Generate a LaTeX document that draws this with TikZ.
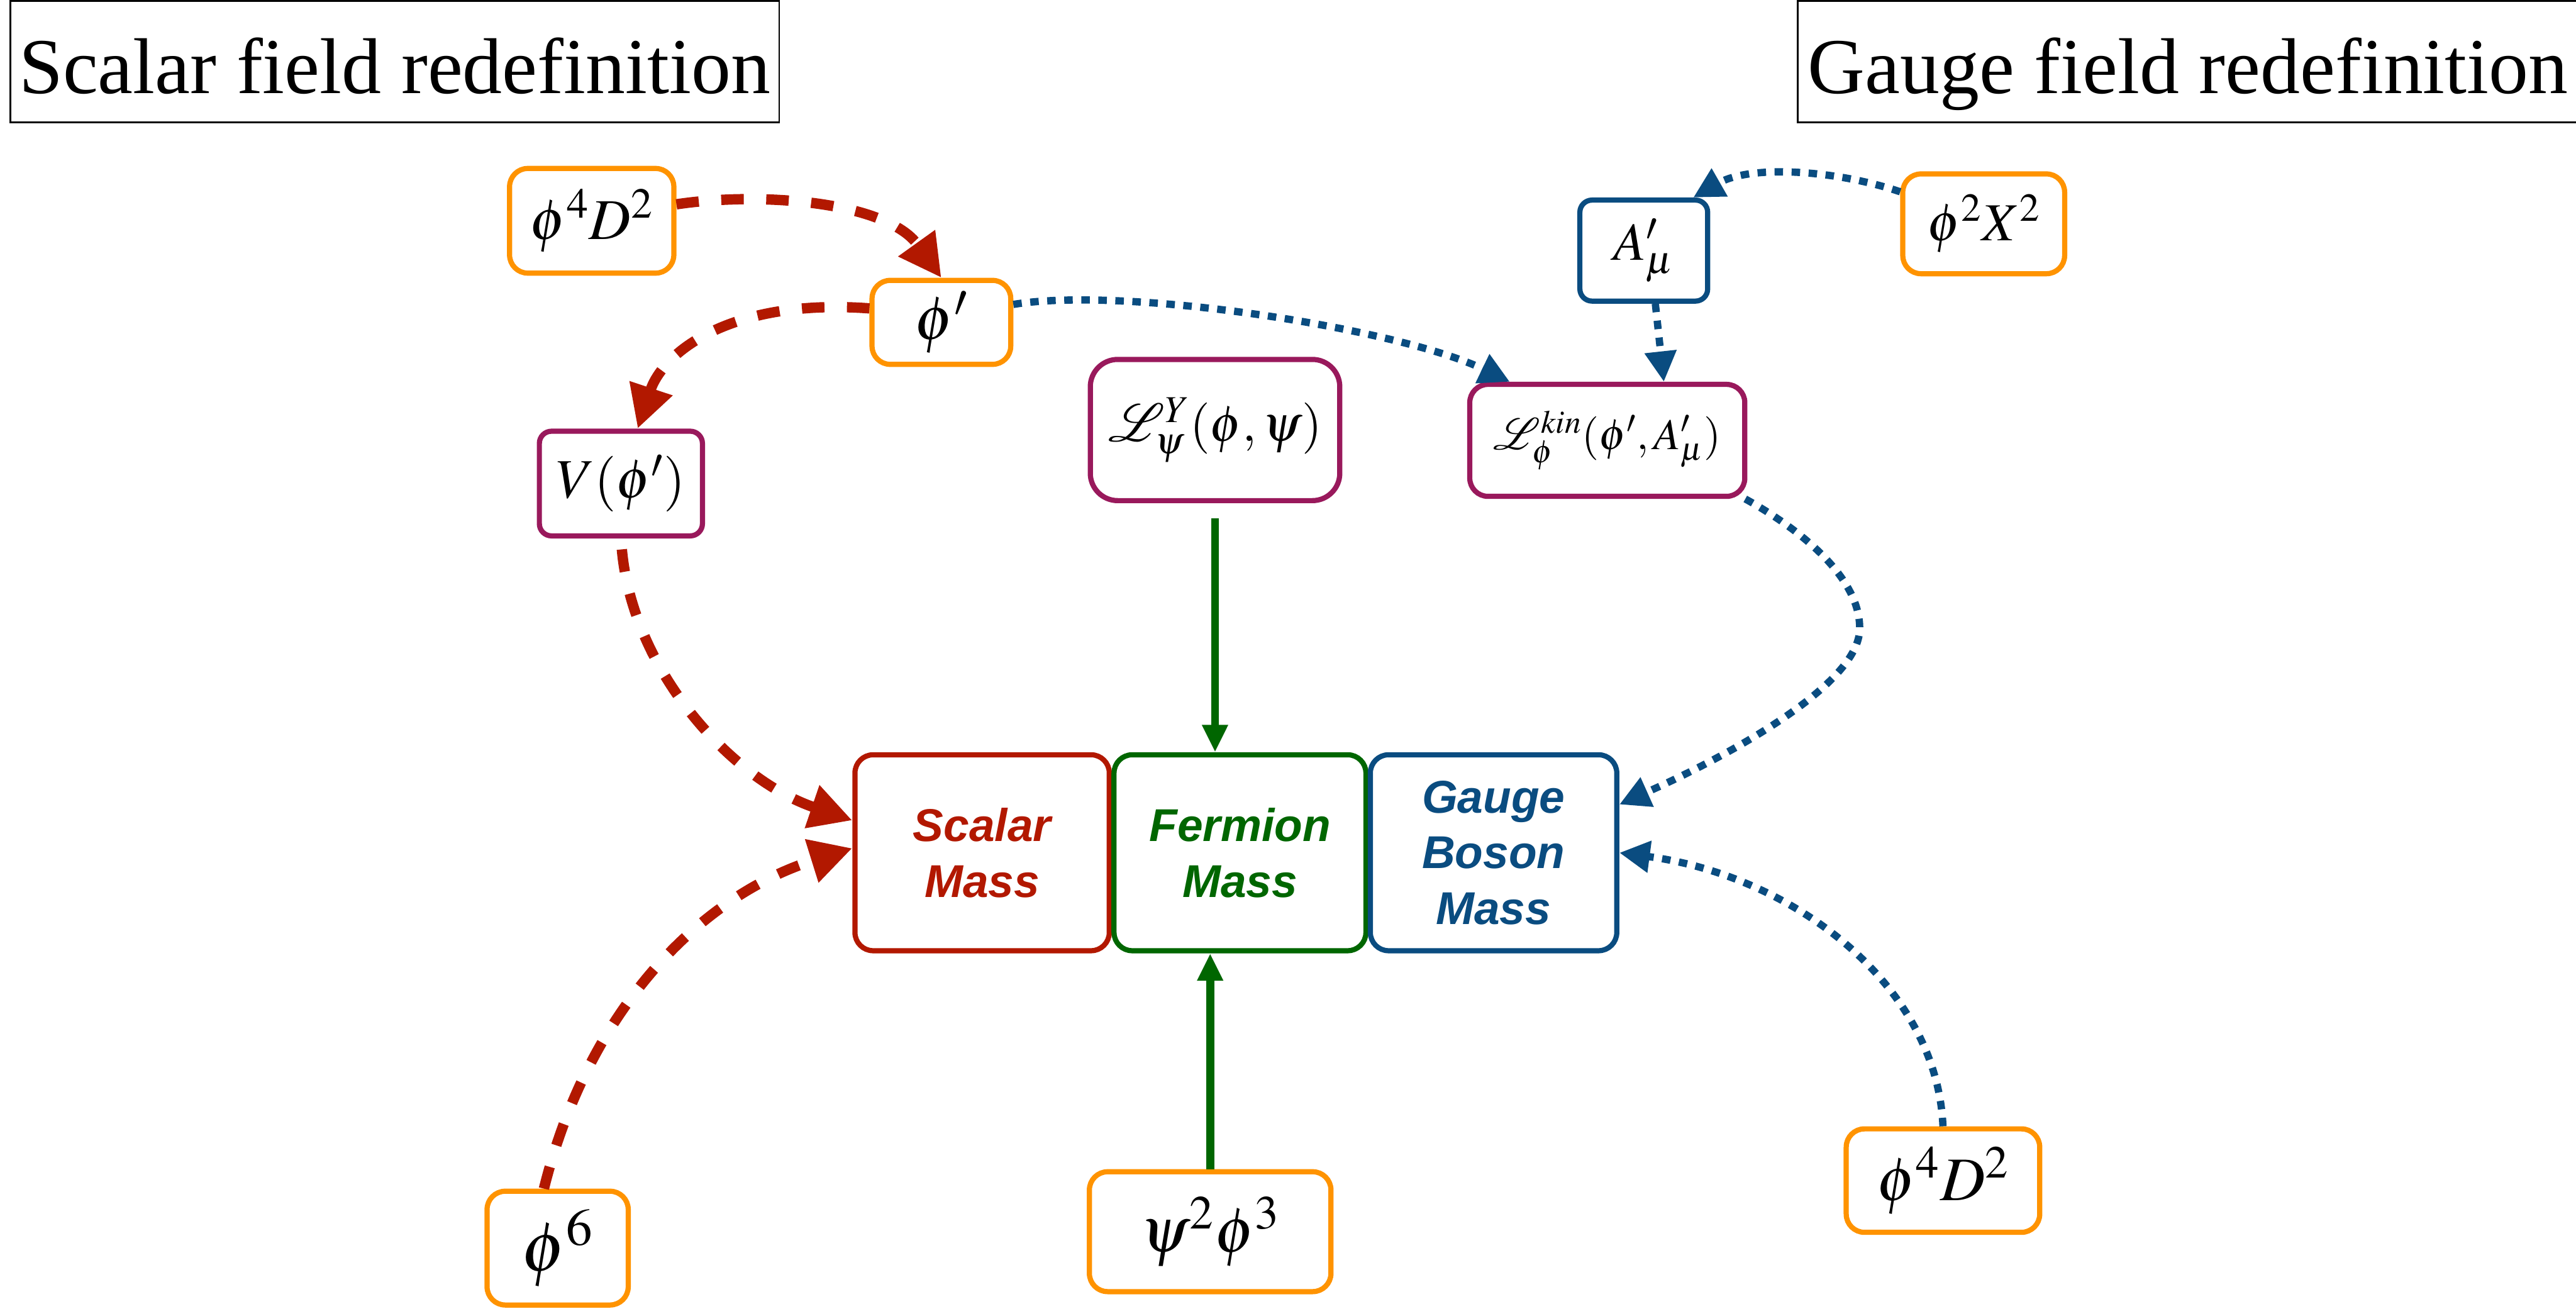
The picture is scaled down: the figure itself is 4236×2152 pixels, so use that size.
\documentclass[tikz,border=0pt]{standalone}
\usepackage{mathptmx}
\usepackage{mathrsfs}
\usepackage[no-math]{fontspec}
\setmainfont{Liberation Serif}
\newfontfamily\massfont{Liberation Sans}
\usetikzlibrary{arrows.meta,calc}

\definecolor{cRed}{RGB}{178,24,0}
\definecolor{cGreen}{RGB}{0,102,0}
\definecolor{cBlue}{RGB}{10,76,128}
\definecolor{cPurple}{RGB}{153,25,92}
\definecolor{cOrange}{RGB}{255,147,0}

\tikzset{
  basebox/.style={line width=0.085cm, rounded corners=0.3cm, fill=white,
    inner sep=0pt, align=center},
  obox/.style={basebox, draw=cOrange},
  pbox/.style={basebox, draw=cPurple},
  bbox/.style={basebox, draw=cBlue},
  massbox/.style={basebox, minimum width=4.2cm, minimum height=3.22cm,
    font=\massfont\bfseries\itshape\fontsize{21.5}{26}\selectfont},
  titlebox/.style={draw=black, line width=0.03cm, inner sep=0pt,
    minimum height=1.99cm, text height=1.4cm, text depth=0.35cm,
    font=\fontsize{37}{44}\selectfont},
  mfont/.style={font=\fontsize{#1}{#1}\selectfont},
  redarrow/.style={draw=cRed, line width=0.17cm,
    dash pattern=on 0.37cm off 0.37cm,
    -{Triangle[length=0.7cm,width=0.7cm]}},
  bluearrow/.style={draw=cBlue, line width=0.12cm,
    dash pattern=on 0.14cm off 0.14cm,
    -{Triangle[length=0.5cm,width=0.5cm]}},
  greenarrow/.style={draw=cGreen, line width=0.13cm,
    -{Triangle[length=0.45cm,width=0.4cm]}},
}

\begin{document}
\begin{tikzpicture}[x=0.01cm,y=-0.01cm]
\useasboundingbox (0,0) rectangle (4236,2152);
\fill[white] (0,0) rectangle (4236,2152);

% headings
\node[titlebox, minimum width=12.64cm] (tScalar) at (649,101.5) {Scalar field redefinition};
\node[titlebox, minimum width=12.83cm] (tGauge) at (3598,101.5) {Gauge field redefinition};

% operator and Lagrangian boxes
\node[obox, minimum width=2.7cm, minimum height=1.72cm, mfont=27] (oTL) at (973,363) {$\phi^4D^2$};
\node[obox, minimum width=2.28cm, minimum height=1.38cm, mfont=29] (ophi) at (1548,530) {$\phi'$};
\node[pbox, minimum width=2.68cm, minimum height=1.72cm, mfont=26, rounded corners=0.2cm] (V) at (1021,795) {$V(\phi')$};
\node[pbox, minimum width=4.1cm, minimum height=2.32cm, mfont=24, rounded corners=0.45cm] (psiY) at (1998,707) {$\mathscr{L}^{Y}_{\psi}(\phi,\psi)$};
\node[bbox, minimum width=2.1cm, minimum height=1.66cm, mfont=25, rounded corners=0.2cm] (Ap) at (2703,412) {$A'_{\mu}$};
\node[obox, minimum width=2.66cm, minimum height=1.64cm, mfont=25] (o2X) at (3262,368) {$\phi^2X^2$};
\node[pbox, minimum width=4.52cm, minimum height=1.84cm, mfont=20.5] (Lkin) at (2643,724) {$\mathscr{L}^{kin}_{\phi}(\phi',A'_{\mu})$};

% mass boxes
\node[massbox, draw=cRed, text=cRed, minimum width=4.18cm] (scalar) at (1615,1402) {Scalar\\Mass};
\node[massbox, draw=cGreen, text=cGreen, minimum width=4.14cm] (fermion) at (2039,1402) {Fermion\\Mass};
\node[massbox, draw=cBlue, text=cBlue, minimum width=4.05cm] (gauge) at (2456,1402) {Gauge\\Boson\\Mass};

% lower operator boxes
\node[obox, minimum width=2.32cm, minimum height=1.87cm, mfont=33] (o6) at (917,2052) {$\phi^6$};
\node[obox, minimum width=3.97cm, minimum height=1.97cm, mfont=30] (oyuk) at (1990,2025) {$\psi^2\phi^3$};
\node[obox, minimum width=3.18cm, minimum height=1.70cm, mfont=29] (oBR) at (3195,1941) {$\phi^4D^2$};

% scalar field redefinition
\draw[redarrow] (oTL.11) .. controls (1250,315) and (1458,331) .. (ophi.north);
\draw[redarrow] (ophi.169) .. controls (1200,490) and (1090,580) .. (V.73);
\draw[redarrow, shorten <=0.18cm] (V.south) .. controls (1040,1100) and (1200,1280) .. (scalar.166);
\draw[redarrow] (o6.103) .. controls (970,1650) and (1160,1470) .. (scalar.178);

% fermion mass
\draw[greenarrow, shorten <=0.25cm] (psiY.south) -- (psiY.south |- fermion.north);
\draw[greenarrow] (oyuk.north) -- (oyuk.north |- fermion.south);

% gauge field redefinition
\draw[bluearrow] (ophi.14) .. controls (1850,470) and (2300,540) .. (Lkin.149);
\draw[bluearrow] ([xshift=0.19cm]Ap.south) -- ([xshift=0.93cm]Lkin.north);
\draw[bluearrow] (o2X.159) .. controls (3020,280) and (2880,270) .. (Ap.47);
\draw[bluearrow] (Lkin.-23) .. controls (2960,870) and (3060,950) .. (3058,1035)
  .. controls (3056,1120) and (2870,1230) .. (gauge.21);
\draw[bluearrow] (oBR.north) .. controls (3185,1620) and (2950,1440) .. (gauge.east);
\end{tikzpicture}
\end{document}
